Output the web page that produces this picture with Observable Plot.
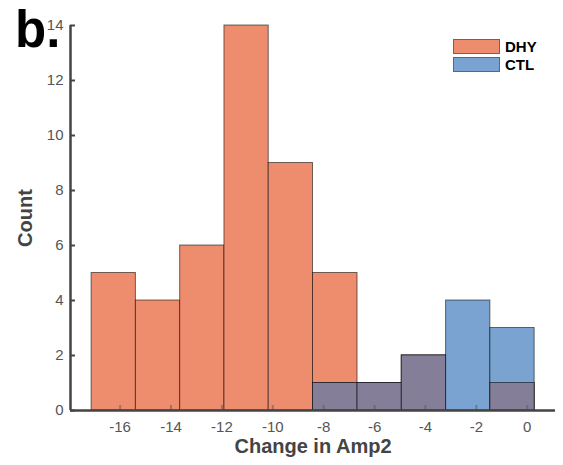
<!DOCTYPE html>
<html>
<head>
<meta charset="utf-8">
<script src="https://cdn.jsdelivr.net/npm/d3@7"></script>
<script src="https://cdn.jsdelivr.net/npm/@observablehq/plot@0.6"></script>
<style>
  body { margin: 0; background: #fff; font-family: "Liberation Sans", Arial, Helvetica, sans-serif; }
  #wrap { position: relative; width: 563px; height: 465px; }
  #panel { position: absolute; left: 15px; top: 4px; font-size: 51px; font-weight: bold; color: #000; line-height: 1; }
  .leg { position: absolute; left: 453px; display: flex; align-items: center; font-size: 15px; font-weight: bold; color: #000; }
  .sw { width: 45px; height: 13px; border: 1px solid #666; margin-right: 5px; }
</style>
</head>
<body>
<div id="wrap"></div>
<script>
// Data
const binEdges = [-17.12, -15.38, -13.64, -11.90, -10.16, -8.42, -6.67, -4.93, -3.19, -1.45, 0.29];
const dhyCounts = [5, 4, 6, 14, 9, 5, 1, 2, 0, 1];
const ctlCounts = [0, 0, 0, 0, 0, 1, 1, 2, 4, 3];
const xTicks = [-16, -14, -12, -10, -8, -6, -4, -2, 0];
const yTicks = [0, 2, 4, 6, 8, 10, 12, 14];
const seriesNames = ["DHY", "CTL"];

const colDHY = "#ee8c6e", colCTL = "#7ba3d1", colBoth = "#857e99";
const xDomain = [-17.95, 1.11];

const bins = binEdges.slice(0, -1).map((x1, i) => ({
  x1, x2: binEdges[i + 1], dhy: dhyCounts[i], ctl: ctlCounts[i], both: Math.min(dhyCounts[i], ctlCounts[i])
}));

const barStyle = {x1: "x1", x2: "x2", y1: 0, stroke: "#000", strokeOpacity: 0.55, strokeWidth: 1};

const chart = Plot.plot({
  width: 563, height: 465,
  marginLeft: 70, marginRight: 8, marginTop: 25, marginBottom: 55,
  style: {fontFamily: "Liberation Sans, Arial, Helvetica, sans-serif", background: "transparent"},
  x: {domain: xDomain},
  y: {domain: [0, 14]},
  marks: [
    Plot.rect(bins.filter(d => d.dhy > 0), {...barStyle, y2: "dhy", fill: colDHY}),
    Plot.rect(bins.filter(d => d.ctl > 0), {...barStyle, y2: "ctl", fill: colCTL}),
    Plot.rect(bins.filter(d => d.both > 0), {...barStyle, y2: "both", fill: colBoth}),
    // inward tick marks
    Plot.ruleX(xTicks, {x: d => d, y1: 0, y2: 0, insetBottom: 5, insetTop: 0, stroke: "#555", strokeOpacity: 0.5, strokeWidth: 2}),
    Plot.ruleY(yTicks, {y: d => d, x1: xDomain[0], x2: xDomain[0], insetRight: -5, stroke: "#444", strokeWidth: 2}),
    // axis lines
    Plot.ruleY([0], {stroke: "#444", strokeWidth: 2.5}),
    Plot.ruleX([xDomain[0]], {y1: 0, y2: 14, stroke: "#444", strokeWidth: 2.5}),
    Plot.axisX({ticks: xTicks, tickSize: 0, tickPadding: 11, tickFormat: d => String(d), fontSize: 15, color: "#555",
      label: "Change in Amp2", labelArrow: "none", labelAnchor: "center", labelOffset: 42}),
    Plot.axisY({ticks: yTicks, tickSize: 0, tickPadding: 7, tickFormat: d => String(d), fontSize: 15, color: "#555",
      label: "Count", labelArrow: "none", labelAnchor: "center", labelOffset: 53})
  ]
});
// style axis labels bold
chart.querySelectorAll("[aria-label='x-axis label'] text, [aria-label='y-axis label'] text").forEach(t => {
  t.setAttribute("font-weight", "bold"); t.setAttribute("font-size", "20"); t.setAttribute("fill", "#444");
  t.textContent = t.textContent.replace(/\s*[→↑←↓]\s*/g, "");
});
const wrap = document.getElementById("wrap");
wrap.appendChild(chart);

const panel = document.createElement("div");
panel.id = "panel"; panel.textContent = "b.";
wrap.appendChild(panel);

[[seriesNames[0], colDHY, 38], [seriesNames[1], colCTL, 56]].forEach(([name, col, top]) => {
  const row = document.createElement("div");
  row.className = "leg"; row.style.top = top + "px";
  const sw = document.createElement("div"); sw.className = "sw"; sw.style.background = col;
  const lab = document.createElement("span"); lab.textContent = name;
  row.appendChild(sw); row.appendChild(lab);
  wrap.appendChild(row);
});
</script>
</body>
</html>
